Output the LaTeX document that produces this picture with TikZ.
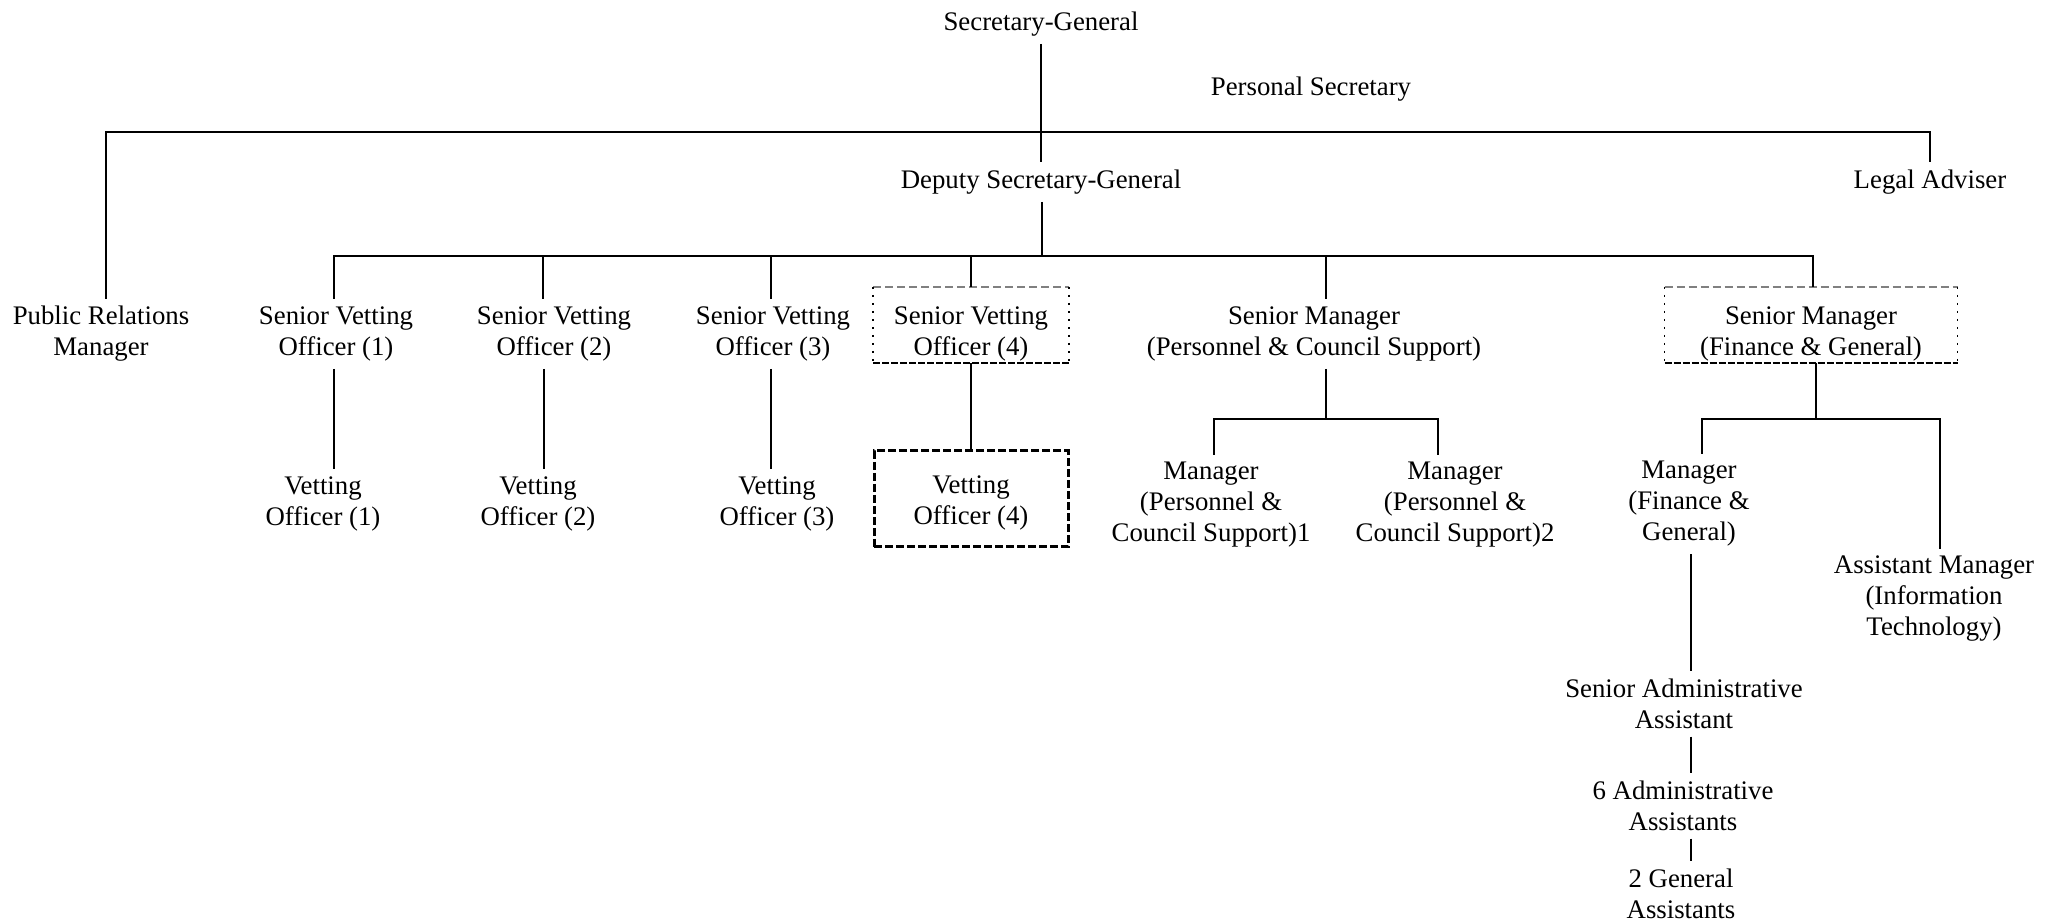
\documentclass[tikz,border=0pt]{standalone}
\usepackage{fontspec}
\setmainfont{Liberation Serif}
\usepackage{tikz}
\usetikzlibrary{positioning, calc}

\tikzset{
  post/.style={align=center, font=\fontsize{13.4}{15.5}\selectfont},
  boxed/.style={minimum width=97pt, minimum height=37pt, inner sep=0pt},
  heavybox/.style={draw, line width=1.5pt, dash pattern=on 4pt off 1.5pt,
                   minimum width=97pt, minimum height=48pt, inner sep=0pt}
}

% box with gray dashed top, dotted sides and heavy dashed bottom
\newcommand{\mixedbox}[1]{%
  \draw[gray, line width=0.6pt, dash pattern=on 4pt off 2pt] (#1.north west) -- (#1.north east);
  \draw[line width=0.8pt, dash pattern=on 0.8pt off 3.2pt] (#1.north west) -- (#1.south west)
       (#1.north east) -- (#1.south east);
  \draw[line width=1.3pt, dash pattern=on 3.5pt off 1pt] (#1.south west) -- (#1.south east);}

\begin{document}
\begin{tikzpicture}[x=0.5pt, y=-0.5pt, line width=1pt]
  \useasboundingbox (0,0) rectangle (2055,924);

  \node[post] (sg) at (1041,24) {Secretary-General};
  \node[post] (ps) at (1311,89) {Personal Secretary};
  \node[post] (dsg) at (1041,182) {Deputy Secretary-General};
  \node[post] (la) at (1930,182) {Legal Adviser};

  \node[post] (pr) at (101,334) {Public Relations\\Manager};
  \node[post] (svo1) at (336,334) {Senior Vetting\\Officer (1)};
  \node[post] (svo2) at (554,334) {Senior Vetting\\Officer (2)};
  \node[post] (svo3) at (773,334) {Senior Vetting\\Officer (3)};
  \node[boxed] (svo4) at (971,325) {};
  \node[post] (svo4t) at (971,334) {Senior Vetting\\Officer (4)};
  \node[post] (smp) at (1314,334) {Senior Manager\\(Personnel \& Council Support)};
  \node[boxed, minimum width=145.5pt] (smf) at (1811,325) {};
  \node[post] (smft) at (1811,334) {Senior Manager\\(Finance \& General)};

  \node[post] (vo1) at (323,504) {Vetting\\Officer (1)};
  \node[post] (vo2) at (538,504) {Vetting\\Officer (2)};
  \node[post] (vo3) at (777,504) {Vetting\\Officer (3)};
  \node[heavybox] (vo4) at (971,499) {};
  \node[post] (vo4t) at (971,503) {Vetting\\Officer (4)};

  \node[post] (mp1) at (1211,505) {Manager\\(Personnel \&\\Council Support)1};
  \node[post] (mp2) at (1455,505) {Manager\\(Personnel \&\\Council Support)2};
  \node[post] (mfg) at (1689,504) {Manager\\(Finance \&\\General)};
  \node[post] (am) at (1934,599) {Assistant Manager\\(Information\\Technology)};
  \node[post] (saa) at (1684,704) {Senior Administrative\\Assistant};
  \node[post] (aa6) at (1683,806) {6 Administrative\\Assistants};
  \node[post] (ga2) at (1681,894) {2 General\\Assistants};

  \mixedbox{svo4}
  \mixedbox{smf}

  \coordinate (topbus) at (1042,132);
  \coordinate (dsgbus) at (1042,256);
  \coordinate (smpbus) at (1326,419);
  \coordinate (smfbus) at (1816,419);

  \draw (sg) -- (sg |- dsg.north);
  \draw ([xshift=2.5pt]pr.north) |- (topbus) -| (la.north);
  \draw (dsg.south -| dsgbus) -- (dsgbus);
  \foreach \n/\dx in {svo1/-1,svo2/-5.5,svo3/-1,svo4/0,smp/6,smf/1}
    \draw (dsgbus) -| ([xshift=\dx pt]\n.north);

  \foreach \i/\dx in {1/-1,2/-5,3/-1,4/0}
    \draw ([xshift=\dx pt]svo\i.south) -- ([xshift=\dx pt]svo\i.south |- vo\i.north);

  \draw (smp.south -| smpbus) -- (smpbus);
  \draw ([xshift=1.5pt]mp1.north) |- (smpbus) -| ([xshift=-8.5pt]mp2.north);
  \draw (smf.south -| smfbus) -- (smfbus);
  \draw ([xshift=6.5pt]mfg.north) |- (smfbus) -| ([xshift=3pt]am.north);

  \draw ([xshift=1pt]mfg.south) -- ([xshift=1pt]mfg.south |- saa.north);
  \draw ([xshift=1pt]saa.south -| mfg) -- ([xshift=1pt]aa6.north -| mfg);
  \draw ([xshift=1pt]aa6.south -| mfg) -- ([xshift=1pt]ga2.north -| mfg);
\end{tikzpicture}
\end{document}
